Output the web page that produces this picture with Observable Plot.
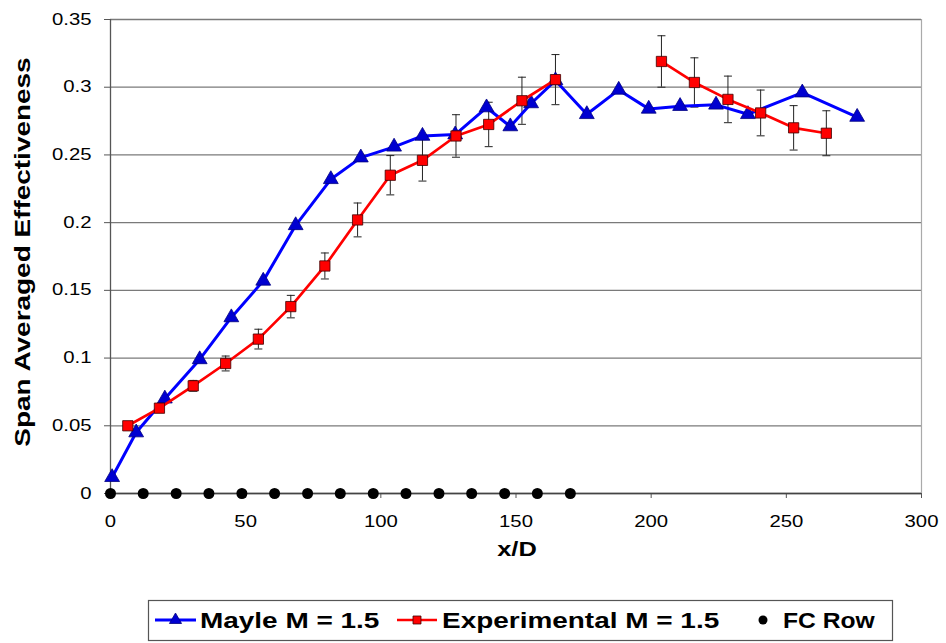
<!DOCTYPE html>
<html><head><meta charset="utf-8">
<script src="https://cdn.jsdelivr.net/npm/d3@7"></script>
<script src="https://cdn.jsdelivr.net/npm/@observablehq/plot@0.6"></script>
<style>
body{margin:0;background:#fff;font-family:"Liberation Sans",Arial,sans-serif;}
#chart{width:946px;height:643px;overflow:hidden;}
#chart svg{display:block;}
</style></head><body><div id="chart"></div>
<script>
// Mayle M = 1.5 (blue triangles)
const mayleX = [0.6, 9.5, 20.1, 33.0, 44.7, 56.5, 68.5, 81.5, 92.6, 104.9, 115.4, 127.5, 139.1, 147.9, 155.6, 164.6, 176.2, 188.0, 199.1, 210.7, 224.0, 235.8, 255.9, 276.2];
const mayleY = [0.012, 0.045, 0.070, 0.099, 0.130, 0.157, 0.198, 0.232, 0.248, 0.256, 0.264, 0.265, 0.285, 0.271, 0.288, 0.305, 0.280, 0.298, 0.284, 0.286, 0.287, 0.280, 0.296, 0.278];
// Experimental M = 1.5 (red squares, with error bars)
const expX = [6.4, 18.1, 30.6, 42.6, 54.7, 66.7, 79.3, 91.4, 103.5, 115.4, 127.8, 139.9, 152.2, 164.6, 203.8, 216.0, 228.4, 240.5, 252.7, 264.8];
const expY = [0.050, 0.063, 0.0795, 0.096, 0.114, 0.138, 0.168, 0.202, 0.235, 0.246, 0.264, 0.2725, 0.290, 0.3056, 0.319, 0.3035, 0.291, 0.281, 0.270, 0.266];
const expErr = [0.002, 0.003, 0.004, 0.0055, 0.0073, 0.0083, 0.0096, 0.0125, 0.0145, 0.0153, 0.0157, 0.0164, 0.0174, 0.0185, 0.019, 0.0182, 0.0172, 0.0169, 0.0164, 0.0166];
const expSegment = [1,1,1,1,1,1,1,1,1,1,1,1,1,1,2,2,2,2,2,2];
// FC Row (black dots)
const fcRowX = [0, 12.1, 24.3, 36.4, 48.6, 60.7, 72.9, 85.0, 97.2, 109.3, 121.5, 133.6, 145.8, 157.9, 170.1];
const fcRowY = [0,0,0,0,0,0,0,0,0,0,0,0,0,0,0];
// Axes
const xTicks = [0, 50, 100, 150, 200, 250, 300];
const yTicks = [0, 0.05, 0.1, 0.15, 0.2, 0.25, 0.3, 0.35];
const xTitle = "x/D";
const yTitle = "Span Averaged Effectiveness";
const legendLabels = ["Mayle M = 1.5", "Experimental M = 1.5", "FC Row"];

const mayle = mayleX.map((x, i) => ({x, y: mayleY[i]}));
const exp = expX.map((x, i) => ({x, y: expY[i], lo: expY[i] - expErr[i], hi: expY[i] + expErr[i], seg: expSegment[i]}));
const fc = fcRowX.map((x, i) => ({x, y: fcRowY[i]}));

const capSymbol = {draw(ctx, size) { const r = Math.sqrt(size / Math.PI); ctx.moveTo(-r, 0); ctx.lineTo(r, 0); }};
const STRETCH = 1.27;

const svg = Plot.plot({
  width: 946, height: 598,
  marginLeft: 110, marginRight: 25, marginTop: 19, marginBottom: 105,
  style: {fontFamily: "'Liberation Sans', Arial, sans-serif", fontSize: "16px", color: "#000", background: "white"},
  x: {domain: [0, 300]},
  y: {domain: [0, 0.35]},
  marks: [
    Plot.gridY({ticks: yTicks, stroke: "#7a7a7a", strokeOpacity: 1, strokeWidth: 1.3}),
    Plot.ruleX([300], {stroke: "#aaaaaa", strokeWidth: 1.2}),
    Plot.axisY({ticks: yTicks, tickSize: 6, tickPadding: 13, tickFormat: d3.format("~g"), label: null, stroke: "#555"}),
    Plot.axisX({ticks: xTicks, tickSize: 5, tickPadding: 17, label: null, stroke: "#555"}),
    Plot.ruleY([0], {stroke: "#444", strokeWidth: 1.3}),
    Plot.ruleX([0], {stroke: "#555", strokeWidth: 1.3}),
    Plot.ruleX(exp, {x: "x", y1: "lo", y2: "hi", stroke: "#222", strokeWidth: 1}),
    Plot.dot(exp, {x: "x", y: "lo", symbol: capSymbol, r: 4, stroke: "#222", fill: "none", strokeWidth: 1}),
    Plot.dot(exp, {x: "x", y: "hi", symbol: capSymbol, r: 4, stroke: "#222", fill: "none", strokeWidth: 1}),
    Plot.line(mayle, {x: "x", y: "y", stroke: "#0000ff", strokeWidth: 3}),
    Plot.dot(mayle, {x: "x", y: "y", symbol: "triangle", r: 5.5, fill: "#0000d0", stroke: "#000080", strokeWidth: 0.8}),
    Plot.line(exp, {x: "x", y: "y", z: "seg", stroke: "#ff0000", strokeWidth: 2.7}),
    Plot.dot(exp, {x: "x", y: "y", symbol: "square", r: 5.8, fill: "#ff0000", stroke: "#400000", strokeWidth: 0.8}),
    Plot.dot(fc, {x: "x", y: "y", r: 5.5, fill: "#000", stroke: "none"})
  ]
});

const root = document.getElementById("chart");
root.appendChild(svg);

const s = d3.select(svg);
s.append("text")
  .attr("transform", "translate(22,252) rotate(-90)")
  .attr("text-anchor", "middle").attr("dy", "0.35em")
  .attr("font-weight", "bold").attr("font-size", 22).attr("fill", "#000")
  .text(yTitle);
s.append("text")
  .attr("x", 517).attr("y", 549)
  .attr("text-anchor", "middle").attr("dy", "0.35em")
  .attr("font-weight", "bold").attr("font-size", 20).attr("fill", "#000")
  .text(xTitle);

// Legend below the plot
const leg = d3.create("svg").attr("width", 946).attr("height", 45)
  .style("font-family", "'Liberation Sans', Arial, sans-serif");
leg.append("rect").attr("x", 148.5).attr("y", 2.5).attr("width", 744).attr("height", 40)
  .attr("fill", "white").attr("stroke", "#555").attr("stroke-width", 1.2);
const ly = 22;
leg.append("line").attr("x1", 155).attr("x2", 196).attr("y1", ly).attr("y2", ly).attr("stroke", "#0000ff").attr("stroke-width", 3);
leg.append("path").attr("transform", `translate(175.5,${ly})`).attr("d", d3.symbol(d3.symbolTriangle, Math.PI * 4.5 * 4.5)())
  .attr("fill", "#0000d0").attr("stroke", "#000080").attr("stroke-width", 0.8);
leg.append("line").attr("x1", 397).attr("x2", 437).attr("y1", ly).attr("y2", ly).attr("stroke", "#ff0000").attr("stroke-width", 2.5);
leg.append("path").attr("transform", `translate(417,${ly})`).attr("d", d3.symbol(d3.symbolSquare, Math.PI * 4.5 * 4.5)())
  .attr("fill", "#ff0000").attr("stroke", "#400000").attr("stroke-width", 0.8);
leg.append("circle").attr("cx", 763).attr("cy", ly).attr("r", 4.5).attr("fill", "#000");
const legX = [200, 442, 783];
const legStretch = [1.27, 1.27, 1.12];
legendLabels.forEach((t, i) => {
  leg.append("text").attr("x", legX[i]).attr("y", ly).attr("dy", "0.35em")
    .attr("font-weight", "bold").attr("font-size", 22).attr("fill", "#000")
    .attr("data-stretch", legStretch[i]).text(t);
});
root.appendChild(leg.node());

// Stretch text horizontally to match the reference's wide lettering
[svg, leg.node()].forEach(node => {
  node.querySelectorAll("text").forEach(t => {
    const w = t.getComputedTextLength();
    const k = +(t.getAttribute("data-stretch") || STRETCH);
    if (w > 0) {
      t.setAttribute("textLength", (w * k).toFixed(1));
      t.setAttribute("lengthAdjust", "spacingAndGlyphs");
    }
  });
});
</script>
</body></html>
